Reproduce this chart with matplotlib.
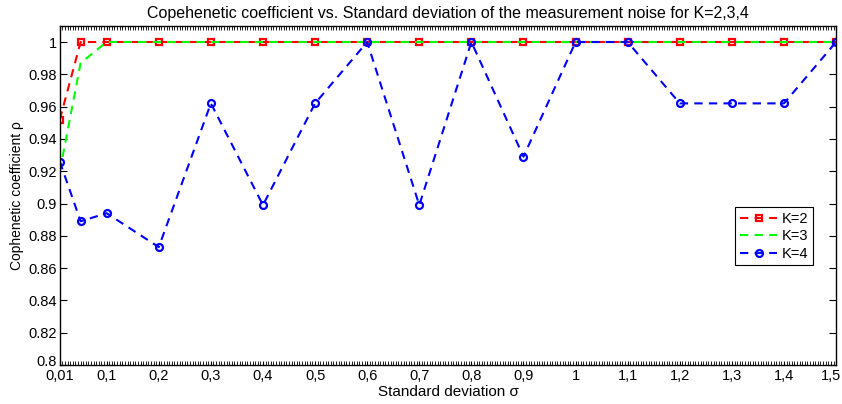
import numpy as np
import matplotlib
matplotlib.use("Agg")
import matplotlib.pyplot as plt
from matplotlib.ticker import MultipleLocator, FixedLocator
from matplotlib.transforms import ScaledTranslation

plt.rcParams['font.family'] = ['Liberation Sans', 'DejaVu Sans']

# data
sigma = [0.01, 0.05, 0.1, 0.2, 0.3, 0.4, 0.5, 0.6, 0.7, 0.8, 0.9, 1.0, 1.1, 1.2, 1.3, 1.4, 1.5]
k2 = [0.952, 1, 1, 1, 1, 1, 1, 1, 1, 1, 1, 1, 1, 1, 1, 1, 1]
k3 = [0.920, 0.987, 1, 1, 1, 1, 1, 1, 1, 1, 1, 1, 1, 1, 1, 1, 1]
k4 = [0.926, 0.889, 0.894, 0.873, 0.962, 0.899, 0.962, 1, 0.899, 1, 0.929, 1, 1, 0.962, 0.962, 0.962, 1]

xticks = [0.01, 0.1, 0.2, 0.3, 0.4, 0.5, 0.6, 0.7, 0.8, 0.9, 1.0, 1.1, 1.2, 1.3, 1.4, 1.5]
xlabels = ["0,01", "0,1", "0,2", "0,3", "0,4", "0,5", "0,6", "0,7", "0,8", "0,9",
           "1", "1,1", "1,2", "1,3", "1,4", "1,5"]
yticks = [0.8, 0.82, 0.84, 0.86, 0.88, 0.9, 0.92, 0.94, 0.96, 0.98, 1.0]
ylabels = ["0.8", "0.82", "0.84", "0.86", "0.88", "0.9", "0.92", "0.94", "0.96", "0.98", "1"]

fig = plt.figure(figsize=(8.42, 4.04), dpi=100)
ax = fig.add_axes([0.071, 0.0965, 0.922, 0.8395])

dash = (0, (4, 3))
ax.plot(sigma, k2, color='red', linestyle=dash, linewidth=1.5, marker='s',
        markersize=4.5, markerfacecolor='none', markeredgewidth=1.6, label='K=2')
ax.plot(sigma, k3, color='#00ff00', linestyle=dash, linewidth=1.5, label='K=3')
ax.plot(sigma, k4, color='blue', linestyle=dash, linewidth=1.5, marker='o',
        markersize=5, markerfacecolor='none', markeredgewidth=1.6, label='K=4')

ax.set_xlim(0.01, 1.5)
ax.set_ylim(0.8, 1.01)
ax.xaxis.set_major_locator(FixedLocator(xticks))
ax.set_xticklabels(xlabels)
ax.xaxis.set_minor_locator(MultipleLocator(0.005))
ax.set_yticks(yticks)
ax.set_yticklabels(ylabels)

ax.tick_params(which='both', direction='in', top=True, right=True, labelsize=10.5)
ax.tick_params(axis='x', which='major', length=3, pad=3)
ax.tick_params(axis='y', which='major', length=5, width=0.8, pad=2)
ax.tick_params(which='minor', length=3, width=0.6)
for s in ax.spines.values():
    s.set_linewidth(1.0)

# nudge the corner labels like the original (1,5 inside the figure, 0.8 a bit up)
last = ax.get_xticklabels()[-1]
last.set_transform(last.get_transform() + ScaledTranslation(-4 / 72, 0, fig.dpi_scale_trans))
first_y = ax.get_yticklabels()[0]
first_y.set_transform(first_y.get_transform() + ScaledTranslation(0, 3 / 72, fig.dpi_scale_trans))

ax.set_title("Copehenetic coefficient vs. Standard deviation of the measurement noise for K=2,3,4",
             fontsize=11.5, pad=6)
ax.set_xlabel("Standard deviation σ", fontsize=11, labelpad=1)
ax.set_ylabel("Cophenetic coefficient ρ", fontsize=10, labelpad=3)

leg = ax.legend(loc='upper left', bbox_to_anchor=(0.87, 0.465), fontsize=10.5,
                frameon=True, fancybox=False, edgecolor='black', framealpha=1,
                handlelength=2.6, handletextpad=0.3, borderpad=0.3, labelspacing=0.25,
                borderaxespad=0)
leg.get_frame().set_linewidth(0.8)

fig.savefig("out.png", dpi=100)
